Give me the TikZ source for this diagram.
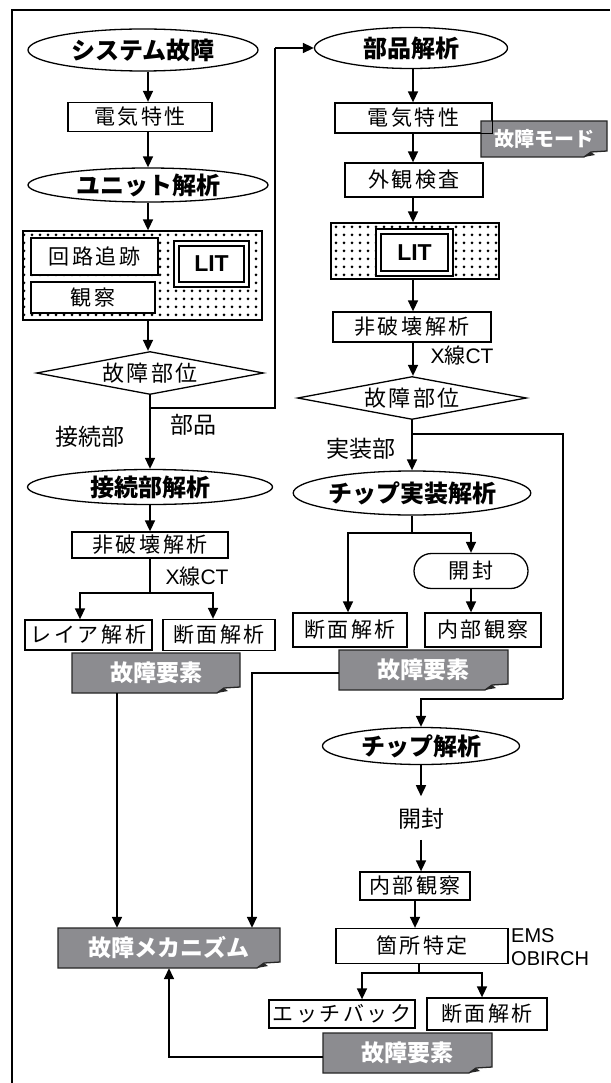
\documentclass[tikz,border=0pt]{standalone}
\usepackage{fontspec}
\setmainfont{Liberation Sans}
\newfontfamily\jp{Noto Sans CJK JP}
\newfontfamily\jps{Noto Sans CJK JP}[LetterSpace=12]
\usetikzlibrary{shapes.geometric,shapes.misc,arrows.meta,patterns.meta}
\definecolor{notegray}{RGB}{140,140,144}
\newcommand\gnote[6]{%
  \filldraw[notegray, draw=black!85, line width=1.3pt]
    (#2-#4/2,#3-#5/2) -- (#2+#4/2,#3-#5/2) -- (#2+#4/2,#3+#5/2-6)
    -- (#2+#4/2-16,#3+#5/2-5) -- (#2+#4/2-23,#3+#5/2) -- (#2-#4/2,#3+#5/2) -- cycle;
  \fill[black!85] (#2+#4/2-16,#3+#5/2-5) -- (#2+#4/2-23,#3+#5/2) -- (#2+#4/2-12,#3+#5/2-2) -- cycle;
  \node[notetext, minimum width=#4pt, minimum height=#5pt] (#1) at (#2,#3) {#6};
}
\begin{document}
\begin{tikzpicture}[x=1pt, y=-1pt,
  box/.style={draw, line width=1.3pt, fill=white, inner sep=0pt, font=\jps\fontsize{21}{23}\selectfont},
  ell/.style={ellipse, draw, line width=1.3pt, fill=white, inner sep=0pt, font=\jp\bfseries\fontsize{24}{26}\selectfont},
  dia/.style={diamond, draw, line width=1.3pt, fill=white, inner sep=0pt, aspect=5.3, font=\jps\fontsize{22}{23}\selectfont},
  lbl/.style={inner sep=0pt, font=\jp\fontsize{23}{25}\selectfont},
  lat/.style={inner sep=0pt, font=\fontsize{21}{23}\selectfont},
  notetext/.style={inner sep=0pt, text=white, font=\jp\bfseries\fontsize{23}{25}\selectfont},
  arr/.style={line width=1.6pt, -{Triangle[length=11pt,width=10pt]}},
  ln/.style={line width=1.6pt},
  panel/.style={draw, line width=1.3pt, inner sep=0pt, pattern={Dots[distance=8pt,radius=1.5pt]}},
  litbox/.style={draw, double, double distance=3.5pt, line width=2pt, fill=white, inner sep=0pt, font=\bfseries\fontsize{23}{25}\selectfont},
  rbox/.style={rounded rectangle, draw, line width=1.3pt, fill=white, inner sep=0pt, font=\jps\fontsize{21}{23}\selectfont}
]
\useasboundingbox (0,0) rectangle (610,1083);
\fill[white] (0,0) rectangle (610,1083);
\draw[line width=1.5pt] (12,1083) -- (12,10) -- (610,10);

\coordinate (colL) at (148,0);
\coordinate (colR) at (413,0);

% ---------- left column ----------
\node[ell, minimum width=230pt, minimum height=42pt] (sys) at (143,50) {システム故障};
\node[box, minimum width=144pt, minimum height=29pt] (el1) at (140,117) {電気特性};
\node[ell, minimum width=240pt, minimum height=34pt] (unit) at (148,185) {ユニット解析};
\node[panel, minimum width=239pt, minimum height=89pt] (panelL) at (142.5,275.5) {};
\node[box, minimum width=127pt, minimum height=37pt] (kairo) at (94.5,256.5) {回路追跡};
\node[box, minimum width=124pt, minimum height=31pt] (kans) at (93,297.5) {観察};
\node[litbox, minimum width=70pt, minimum height=41pt] (litL) at (211.5,264) {LIT};
\node[dia, minimum width=227pt, minimum height=43pt] (diaL) at (150,373) {故障部位};
\node[lbl] (lbuhin) at (193,425) {部品};
\node[lbl] (lsetsu) at (90,437) {接続部};
\node[ell, minimum width=245pt, minimum height=35pt] (joint) at (150,487) {接続部解析};
\node[box, minimum width=156pt, minimum height=26pt] (nd1) at (150,545) {非破壊解析};
\node[lat] (xct1) at (197,577) {X{\jp 線}CT};
\node[box, minimum width=127pt, minimum height=30pt] (layer) at (88.5,635) {レイア解析};
\node[box, minimum width=112pt, minimum height=31pt] (dan1) at (219,635) {断面解析};
\gnote{fe1}{156}{673}{168}{40}{故障要素}
\gnote{mech}{169}{948}{222}{40}{故障メカニズム}

% ---------- right column ----------
\node[ell, minimum width=193pt, minimum height=41pt] (buhin) at (411,48) {部品解析};
\node[box, minimum width=157pt, minimum height=30pt] (el2) at (413.5,118) {電気特性};
\gnote{mode}{544}{139}{126}{36}{\fontsize{20}{22}\selectfont 故障モード}
\draw[line width=1.3pt] (el2.north west) rectangle (el2.south east);
\node[box, minimum width=138pt, minimum height=34pt] (gaikan) at (414,180) {外観検査};
\node[panel, minimum width=168pt, minimum height=56pt] (panelR) at (415,251) {};
\node[litbox, minimum width=72pt, minimum height=42pt] (litR) at (414.5,252.5) {LIT};
\node[box, minimum width=158pt, minimum height=30pt] (nd2) at (412,327) {非破壊解析};
\node[lat] (xct2) at (462,356) {X{\jp 線}CT};
\node[dia, minimum width=229pt, minimum height=43pt] (diaR) at (412,398) {故障部位};
\node[lbl] (ljissou) at (361,449) {実装部};
\node[ell, minimum width=221pt, minimum height=44pt] (chipm) at (412,493) {チップ実装解析};
\node[rbox, minimum width=114pt, minimum height=35pt] (kaifu1) at (471,571) {開封};
\node[box, minimum width=114pt, minimum height=34pt] (dan2) at (350,630) {断面解析};
\node[box, minimum width=116pt, minimum height=34pt] (naibu1) at (483,630) {内部観察};
\gnote{fe2}{423.5}{670}{169}{40}{故障要素}
\node[ell, minimum width=197pt, minimum height=37pt] (chip) at (421,746) {チップ解析};
\node[lbl] (kaifu2) at (421,819) {開封};
\node[box, minimum width=110pt, minimum height=28pt] (naibu2) at (415,886) {内部観察};
\node[box, minimum width=172pt, minimum height=35pt] (kasho) at (422,946) {箇所特定};
\node[inner sep=0pt, anchor=west, align=left, font=\fontsize{20}{23}\selectfont] (ems) at (511,947) {EMS\\OBIRCH};
\node[box, minimum width=146pt, minimum height=28pt] (etch) at (342,1014) {エッチバック};
\node[box, minimum width=120pt, minimum height=32pt] (dan3) at (487,1014) {断面解析};
\gnote{fe3}{407.5}{1053}{169}{40}{故障要素}

% ---------- connectors left ----------
\draw[arr] (colL |- sys.south) -- (colL |- el1.north);
\draw[arr] (colL |- el1.south) -- (colL |- unit.north);
\draw[arr] (colL |- unit.south) -- (colL |- panelL.north);
\draw[arr] (colL |- panelL.south) -- (colL |- diaL.north);
\coordinate (brL) at (150,408);
\coordinate (upL) at (275,408);
\coordinate (topL) at (275,48);
\draw[arr] (diaL.south) -- (joint.north);
\draw[ln] (brL) -- (upL) -- (topL);
\draw[arr] (topL) -- (buhin.west);
\draw[arr] (joint.south) -- (nd1.north);
\coordinate (fk1) at (150,593);
\draw[ln] (nd1.south) -- (fk1);
\draw[arr] (fk1) -| ([xshift=-8.5pt]layer.north);
\draw[arr] (fk1) -| ([xshift=-6pt]dan1.north);
\draw[arr] ([xshift=-39pt]fe1.south) -- ([xshift=-52pt]mech.north);
\coordinate (c2) at (252,0);
\draw[arr] (fe2.west |- 0,673) -- (c2 |- 0,673) -- (c2 |- mech.north);
\draw[arr] (fe3.west |- 0,1057) -- (mech.south |- 0,1057) -- (mech.south);

% ---------- connectors right ----------
\draw[arr] (colR |- buhin.south) -- (colR |- el2.north);
\draw[arr] (colR |- el2.south) -- (colR |- gaikan.north);
\draw[arr] (colR |- gaikan.south) -- (colR |- panelR.north);
\draw[arr] (colR |- panelR.south) -- (colR |- nd2.north);
\draw[arr] (colR |- nd2.south) -- (colR |- diaR.north);
\draw[arr] (diaR.south) -- (chipm.north);
\coordinate (brR) at (412,434);
\coordinate (rR1) at (563,434);
\coordinate (rR2) at (563,699);
\draw[ln] (brR) -- (rR1) -- (rR2);
\draw[arr] (rR2) -- (chip.north |- rR2) -- (chip.north);
\coordinate (fk2) at (412,533);
\draw[ln] (chipm.south) -- (fk2);
\draw[arr] (fk2) -| ([xshift=-2pt]dan2.north);
\draw[arr] (fk2) -| (kaifu1.north);
\draw[arr] (kaifu1.south) -- (kaifu1.south |- naibu1.north);
\draw[arr] (chip.south) -- ([yshift=12pt]kaifu2.north);
\draw[arr] ([yshift=-10pt]kaifu2.south) -- (kaifu2.south |- naibu2.north);
\draw[arr] (naibu2.south) -- (naibu2.south |- kasho.north);
\coordinate (fk3) at (419,973);
\draw[ln] (kasho.south -| fk3) -- (fk3);
\draw[arr] (fk3) -| ([xshift=20pt]etch.north);
\draw[arr] (fk3) -| ([xshift=-5pt]dan3.north);
\end{tikzpicture}
\end{document}
